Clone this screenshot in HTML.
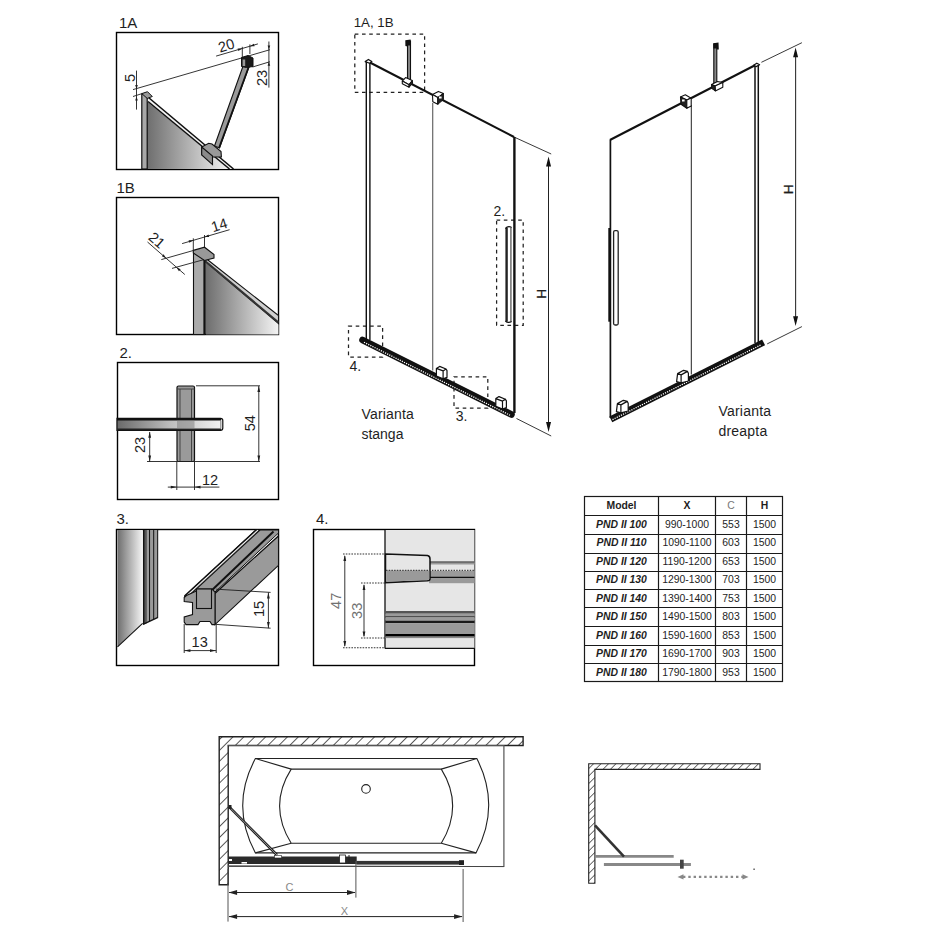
<!DOCTYPE html>
<html><head><meta charset="utf-8">
<style>
html,body{margin:0;padding:0;background:#fff;width:938px;height:938px;overflow:hidden}
svg{display:block;position:absolute;left:0;top:0}
text{font-family:"Liberation Sans",sans-serif;fill:#1e1e1e}
.lbl{font-size:15px}
.tb{font-size:10.4px}
.dim{font-size:14.6px}
</style></head><body>
<svg width="938" height="938" viewBox="0 0 938 938">
<defs>
  <linearGradient id="gL" x1="0" y1="0" x2="1" y2="0">
    <stop offset="0" stop-color="#6e6e6e"/><stop offset="1" stop-color="#f4f4f4"/>
  </linearGradient>
  <linearGradient id="gBar" x1="117" y1="0" x2="223" y2="0" gradientUnits="userSpaceOnUse">
    <stop offset="0" stop-color="#6a6a6a"/><stop offset="0.5" stop-color="#bdbdbd"/><stop offset="1" stop-color="#f4f4f4"/>
  </linearGradient>
  <pattern id="hatch" patternUnits="userSpaceOnUse" width="7.7" height="7.7" patternTransform="rotate(45)">
    <rect width="7.7" height="7.7" fill="#fff"/><line x1="0" y1="0" x2="0" y2="7.7" stroke="#222" stroke-width="1.5"/>
  </pattern>
  <pattern id="hatch2" patternUnits="userSpaceOnUse" width="5.3" height="5.3" patternTransform="rotate(45)">
    <rect width="5.3" height="5.3" fill="#fff"/><line x1="0" y1="0" x2="0" y2="5.3" stroke="#222" stroke-width="1.3"/>
  </pattern>
  <marker id="ar" viewBox="0 0 10 10" refX="10" refY="5" markerWidth="5" markerHeight="5" orient="auto-start-reverse">
    <path d="M0,1.5 L10,5 L0,8.5 z" fill="#1e1e1e"/>
  </marker>
  <marker id="arg" viewBox="0 0 10 10" refX="10" refY="5" markerWidth="5" markerHeight="5" orient="auto-start-reverse">
    <path d="M0,1.5 L10,5 L0,8.5 z" fill="#888"/>
  </marker>
</defs>

<!-- ===== detail boxes ===== -->
<g id="boxes" fill="none" stroke="#000" stroke-width="1.4">
  <rect x="116.5" y="32.5" width="162" height="137"/>
  <rect x="116.5" y="197.5" width="162" height="137"/>
  <rect x="117.5" y="362.5" width="161" height="137"/>
  <rect x="116.5" y="529.5" width="162" height="136"/>
  <rect x="313.5" y="529.5" width="161" height="136"/>
</g>
<g class="lbl">
  <text x="119" y="28">1A</text>
  <text x="116.5" y="193">1B</text>
  <text x="119.5" y="358">2.</text>
  <text x="116.5" y="524">3.</text>
  <text x="316" y="524">4.</text>
</g>

<!-- ===== 1A ===== -->
<g id="d1a">
  <!-- glass gradient -->
  <polygon points="147,101.5 229.5,169 147,169" fill="url(#gL)"/>
  <!-- glass edge -->
  <polygon points="148.5,97.5 233.5,169 229.5,169 148,101.5" fill="#f2f2f2"/>
  <line x1="148.5" y1="97.5" x2="233.5" y2="169" stroke="#111" stroke-width="1.6"/>
  <line x1="148" y1="101.5" x2="229.5" y2="169" stroke="#111" stroke-width="1.6"/>
  <!-- post -->
  <rect x="141.8" y="94" width="5.4" height="75" fill="#a8a8a8" stroke="#111" stroke-width="1.2"/>
  <polygon points="141.8,93.6 147.5,91.7 152.3,96.5 147.2,98.4" fill="#999" stroke="#111" stroke-width="1"/>
  <!-- dims -->
  <g stroke="#1e1e1e" stroke-width="0.9" fill="none">
    <line x1="136.5" y1="70.6" x2="136.5" y2="109.6"/>
    <line x1="133" y1="89.6" x2="270" y2="49.7"/>
    <line x1="133" y1="96.5" x2="142" y2="93.6"/>
    <line x1="252.6" y1="67" x2="270" y2="61.7"/>
    <line x1="268.9" y1="41.5" x2="268.9" y2="87.6"/>
    <line x1="216.1" y1="56.1" x2="257.9" y2="43.9"/>
    <line x1="242.3" y1="46.8" x2="242.3" y2="60"/>
    <line x1="249.9" y1="44.4" x2="249.9" y2="54"/>
  </g>
  <g fill="#1e1e1e">
    <path d="M136.5,89 l-1.3,-4 h2.6z M136.5,96.5 l-1.3,4 h2.6z"/>
    <path d="M268.9,49.5 l-1.3,-4 h2.6z M268.9,61.7 l-1.3,4 h2.6z"/>
    <path d="M242.30,48.45 L238.34,50.96 L237.62,48.46Z M249.90,46.23 L253.86,43.72 L254.58,46.22Z"/>
  </g>
  <text class="dim" transform="translate(129.5,78) rotate(-90)" text-anchor="middle" dominant-baseline="central">5</text>
  <text class="dim" transform="translate(226.4,45.5) rotate(-17)" text-anchor="middle" dominant-baseline="central">20</text>
  <text class="dim" transform="translate(261.7,78) rotate(-90)" text-anchor="middle" dominant-baseline="central">23</text>
  <!-- rod -->
  <polygon points="244.5,62 250,64 219.5,148 214.5,146" fill="#9a9a9a" stroke="#111" stroke-width="1.1"/>
  <line x1="249.6" y1="64.5" x2="219.2" y2="147.5" stroke="#111" stroke-width="1.8"/>
  <!-- wall bracket -->
  <polygon points="241.5,57.5 248,55.5 253,58 253,66.5 246.5,67.5 241.5,66.5" fill="#1a1a1a" stroke="#111" stroke-width="1"/>
  <rect x="242.6" y="59.5" width="2.6" height="6.5" fill="#999"/>
  <!-- clamp -->
  <polygon points="201.7,147 208.7,143.3 212,144 221,151.5 221.4,157 212.5,157 201.7,154.5" fill="#999" stroke="#111" stroke-width="1.1"/>
  <polygon points="201.7,147 212.5,156 212.5,164.6 201.7,155" fill="#8a8a8a" stroke="#111" stroke-width="1.1"/>
</g>

<!-- ===== 1B ===== -->
<g id="d1b">
  <polygon points="206,262 278.5,323.5 278.5,334.5 206,334.5" fill="url(#gL)"/>
  <polygon points="206,258.5 278.5,315.6 278.5,323.6 206,262" fill="#cfcfcf" stroke="#111" stroke-width="1.1"/>
  <line x1="206" y1="261.7" x2="278.5" y2="322.5" stroke="#333" stroke-width="2"/>
  <rect x="193.5" y="252" width="11" height="82.5" fill="#aaa" stroke="#111" stroke-width="1.1"/>
  <line x1="204.6" y1="258" x2="204.6" y2="334.5" stroke="#111" stroke-width="2.4"/>
  <polygon points="193.3,250.4 204.5,247.2 214,254.5 214,258 204.5,260.5 193.3,253" fill="#999" stroke="#111" stroke-width="1.1"/>
  <g stroke="#1e1e1e" stroke-width="0.9" fill="none">
    <line x1="182.1" y1="243.6" x2="229.6" y2="229.7"/>
    <line x1="193.3" y1="238.3" x2="193.3" y2="250.5"/>
    <line x1="204.5" y1="235" x2="204.5" y2="247"/>
    <line x1="147.5" y1="242" x2="184.8" y2="274.5"/>
    <line x1="161.3" y1="259.6" x2="193.3" y2="250.5"/>
    <line x1="172" y1="268.4" x2="204" y2="259.6"/>
  </g>
  <g fill="#1e1e1e">
    <path d="M193.30,240.32 L189.35,242.83 L188.62,240.34Z M204.50,237.05 L208.45,234.54 L209.18,237.03Z"/>
    <path d="M166.12,258.23 L161.87,256.25 L163.58,254.29Z M176.41,267.19 L180.66,269.17 L178.95,271.13Z"/>
  </g>
  <text class="dim" transform="translate(219.2,225) rotate(-17)" style="font-size:14.5px" text-anchor="middle" dominant-baseline="central">14</text>
  <text class="dim" transform="translate(156.8,240.3) rotate(41)" style="font-size:14.5px" text-anchor="middle" dominant-baseline="central">21</text>
</g>

<!-- ===== 2 ===== -->
<g id="d2">
  <rect x="177" y="386" width="17.5" height="75.5" rx="1.5" fill="#9a9a9a" stroke="#111" stroke-width="1.2"/>
  <line x1="180" y1="389" x2="180" y2="461" stroke="#444" stroke-width="1"/>
  <line x1="191.5" y1="389" x2="191.5" y2="461" stroke="#444" stroke-width="1"/>
  <line x1="177" y1="389" x2="194.5" y2="389" stroke="#444" stroke-width="1"/>
  <path d="M117,418.4 H220.5 Q222.8,418.4 222.8,420.6 V428 Q222.8,430.4 220.5,430.4 H117 Z" fill="url(#gBar)" stroke="#111" stroke-width="1.2"/>
  <line x1="117" y1="419.6" x2="221" y2="419.6" stroke="#111" stroke-width="2"/>
  <line x1="117" y1="429.4" x2="221" y2="429.4" stroke="#222" stroke-width="1.6"/>
  <rect x="177" y="420.5" width="17.5" height="8" fill="#7a7a7a" opacity="0.5"/>
  <line x1="220.8" y1="420.6" x2="220.8" y2="428.5" stroke="#666" stroke-width="0.8"/>
  <g stroke="#1e1e1e" stroke-width="0.9" fill="none">
    <line x1="196" y1="385.8" x2="260" y2="385.8"/>
    <line x1="147" y1="461.5" x2="260" y2="461.5"/>
    <line x1="258.8" y1="386" x2="258.8" y2="461.5"/>
    <line x1="149.7" y1="432" x2="149.7" y2="461.5"/>
    <line x1="176.8" y1="461.5" x2="176.8" y2="490"/>
    <line x1="194.5" y1="461.5" x2="194.5" y2="490"/>
    <line x1="167.8" y1="487.1" x2="219.4" y2="487.1"/>
  </g>
  <g fill="#1e1e1e">
    <path d="M258.80,386.00 L260.20,392.00 L257.40,392.00Z M258.80,461.50 L257.40,455.50 L260.20,455.50Z"/>
    <path d="M149.70,431.80 L151.10,437.80 L148.30,437.80Z M149.70,461.50 L148.30,455.50 L151.10,455.50Z"/>
    <path d="M176.80,487.10 L170.80,488.50 L170.80,485.70Z M194.50,487.10 L200.50,485.70 L200.50,488.50Z"/>
  </g>
  <text class="dim" transform="translate(250.3,423.2) rotate(-90)" text-anchor="middle" dominant-baseline="central">54</text>
  <text class="dim" transform="translate(139.9,445) rotate(-90)" text-anchor="middle" dominant-baseline="central">23</text>
  <text class="dim" x="210" y="485" text-anchor="middle">12</text>
</g>

<!-- ===== 3 ===== -->
<g id="d3">
  <polygon points="117.5,530 142.6,530 142.6,623.3 117.5,646.8" fill="url(#gL)"/>
  <line x1="142.6" y1="623.3" x2="117.5" y2="646.8" stroke="#111" stroke-width="1.1"/>
  <polygon points="143,530 158,530 158,617.3 143,624.3" fill="#9a9a9a"/>
  <polygon points="144.6,530 146.8,530 146.8,623.3 144.6,624" fill="#555"/>
  <g stroke="#111" fill="none">
    <line x1="143.8" y1="530" x2="143.8" y2="624.3" stroke-width="1.7"/>
    <line x1="149.55" y1="530" x2="149.55" y2="621.7" stroke-width="1"/>
    <line x1="153.7" y1="530" x2="153.7" y2="619.5" stroke-width="1"/>
    <line x1="157.7" y1="530" x2="157.7" y2="617.6" stroke-width="1"/>
    <line x1="143" y1="624.3" x2="158" y2="617.3" stroke-width="1.3"/>
  </g>
  <!-- track top surface -->
  <polygon points="184.2,596.5 255.7,530 278.5,530 278.5,533 215,592" fill="#9a9a9a" stroke="#111" stroke-width="1"/>
  <line x1="184.5" y1="596" x2="256" y2="530" stroke="#111" stroke-width="1.4"/>
  <line x1="186.2" y1="596.3" x2="258" y2="530" stroke="#fff" stroke-width="0.9"/>
  <line x1="187.8" y1="596.8" x2="260" y2="530" stroke="#111" stroke-width="1.1"/>
  <line x1="211.6" y1="590.5" x2="273.5" y2="531.5" stroke="#111" stroke-width="2"/>
  <line x1="215" y1="593.5" x2="278.5" y2="536" stroke="#111" stroke-width="1.2"/>
  <!-- side face -->
  <polygon points="215,593.5 278.5,536 278.5,565.3 215,624.6" fill="#9a9a9a" stroke="#111" stroke-width="1.1"/>
  <!-- front cross section -->
  <path d="M184.2,597.5 L186.5,595.5 L196.5,591 L196.5,589 L212,589 L215,592.2 L215,624.6 L212,624.6 L210,621.5 L200,621.5 L198,624.6 L186,624.6 L184.2,622 L184.2,617 L192.5,614.6 L192.5,602.5 L184.2,601.5 Z" fill="#9a9a9a" stroke="#111" stroke-width="1.1"/>
  <rect x="196.5" y="589" width="15" height="19.5" fill="#9a9a9a" stroke="#111" stroke-width="1.1"/>
  <g stroke="#1e1e1e" stroke-width="0.9" fill="none">
    <line x1="216.2" y1="589.2" x2="270.6" y2="592.4"/>
    <line x1="216.2" y1="624.4" x2="270.6" y2="628.2"/>
    <line x1="268.4" y1="592.4" x2="268.4" y2="628.2"/>
    <line x1="184.2" y1="624" x2="184.2" y2="653"/>
    <line x1="216.2" y1="624" x2="216.2" y2="653"/>
    <line x1="184.2" y1="650.6" x2="216.2" y2="650.6"/>
  </g>
  <g fill="#1e1e1e">
    <path d="M268.40,592.60 L269.80,598.60 L267.00,598.60Z M268.40,628.00 L267.00,622.00 L269.80,622.00Z"/>
    <path d="M184.40,650.60 L190.40,649.20 L190.40,652.00Z M216.00,650.60 L210.00,652.00 L210.00,649.20Z"/>
  </g>
  <text class="dim" transform="translate(259.3,609) rotate(-90)" text-anchor="middle" dominant-baseline="central">15</text>
  <text class="dim" x="199.7" y="646.8" text-anchor="middle">13</text>
</g>

<!-- ===== 4 ===== -->
<g id="d4">
  <rect x="385" y="530" width="89.5" height="118.2" fill="#e6e6e6"/>
  <line x1="385" y1="530" x2="385" y2="648.5" stroke="#111" stroke-width="1.3"/>
  <line x1="385" y1="648.3" x2="474.5" y2="648.3" stroke="#111" stroke-width="1.2"/>
  <!-- right stripes near handle -->
  <rect x="429" y="561.5" width="45.5" height="3" fill="#999"/>
  <line x1="429" y1="562" x2="474.5" y2="562" stroke="#444" stroke-width="1"/>
  <rect x="429" y="571" width="45.5" height="12.2" fill="#9a9a9a"/>
  <line x1="429" y1="577.3" x2="474.5" y2="577.3" stroke="#111" stroke-width="1.2"/>
  <!-- handle -->
  <path d="M385.5,554 L427.5,555.5 Q430,556 430,559 L430,579 Q430,580.5 427.5,580.8 L385.5,582.6 Z" fill="#e6e6e6" stroke="#111" stroke-width="1.5"/>
  <path d="M386.3,570.4 L429.2,570.4 L429.2,579 Q429,580 427.3,580.1 L386.3,581.8 Z" fill="#9a9a9a"/>
  <line x1="386" y1="570.4" x2="474.5" y2="570.4" stroke="#444" stroke-width="1.1" stroke-dasharray="1.5,1.2"/>
  <!-- bottom stripes -->
  <rect x="385.5" y="611" width="89" height="2.7" fill="#555"/>
  <rect x="385.5" y="613.7" width="89" height="3" fill="#9a9a9a"/>
  <rect x="385.5" y="616.4" width="89" height="1" fill="#111"/>
  <rect x="385.5" y="617.4" width="89" height="3" fill="#9a9a9a"/>
  <rect x="385.5" y="620.6" width="89" height="2.6" fill="#1a1a1a"/>
  <rect x="385.5" y="623.2" width="89" height="10.8" fill="#9a9a9a"/>
  <rect x="385.5" y="634" width="89" height="2.6" fill="#000"/>
  <rect x="385.5" y="636.6" width="89" height="1.5" fill="#888"/>
  <!-- dims -->
  <g stroke="#333" stroke-width="1.1" stroke-dasharray="1.6,1.2" fill="none">
    <line x1="343" y1="554" x2="385" y2="554"/>
    <line x1="361" y1="583" x2="385" y2="583"/>
    <line x1="361" y1="638" x2="385" y2="638"/>
    <line x1="343" y1="647.8" x2="385" y2="647.8"/>
  </g>
  <g stroke="#1e1e1e" stroke-width="0.9">
    <line x1="344.8" y1="556" x2="344.8" y2="646"/>
    <line x1="364" y1="585" x2="364" y2="636"/>
  </g>
  <g fill="#1e1e1e">
    <path d="M344.80,555.00 L346.20,561.00 L343.40,561.00Z M344.80,647.00 L343.40,641.00 L346.20,641.00Z"/>
    <path d="M364.00,584.00 L365.40,590.00 L362.60,590.00Z M364.00,637.50 L362.60,631.50 L365.40,631.50Z"/>
  </g>
  <text class="dim" style="fill:#707070" transform="translate(336.3,600.8) rotate(-90)" text-anchor="middle" dominant-baseline="central">47</text>
  <text class="dim" style="fill:#707070" transform="translate(357.2,610.8) rotate(-90)" text-anchor="middle" dominant-baseline="central">33</text>
</g>

<!-- ===== main left (stanga) ===== -->
<g id="mainL">
  <g fill="none" stroke="#222" stroke-width="1.25" stroke-dasharray="3.6,3.6">
    <rect x="354.8" y="34" width="69.8" height="58.4"/>
    <rect x="496.6" y="220" width="26.6" height="105.3"/>
    <rect x="348.5" y="326.2" width="34.1" height="30.8"/>
    <rect x="454" y="376.9" width="33.8" height="31.1"/>
  </g>
  <g style="font-size:14px">
    <text x="353.7" y="26.7" style="font-size:13.3px">1A, 1B</text>
    <text x="493.5" y="216">2.</text>
    <text x="349.5" y="371">4.</text>
    <text x="455.8" y="420.9">3.</text>
    <text x="361.4" y="418.6" style="letter-spacing:0.2px">Varianta</text>
    <text x="361.4" y="438.5">stanga</text>
  </g>
  <!-- post -->
  <line x1="366.3" y1="61.4" x2="366.3" y2="340" stroke="#111" stroke-width="1.4"/>
  <line x1="369.9" y1="62" x2="369.9" y2="340" stroke="#111" stroke-width="1.4"/>
  <!-- top rail -->
  <line x1="368" y1="61.5" x2="514" y2="137" stroke="#111" stroke-width="2.1"/>
  <polygon points="365.2,61.6 368.4,59.4 371.8,61.6 369.6,63.2" fill="#fff" stroke="#111" stroke-width="1.2" stroke-linejoin="round"/>
  <line x1="514" y1="137" x2="551.2" y2="154" stroke="#222" stroke-width="0.9"/>
  <!-- middle line -->
  <line x1="432.7" y1="103" x2="432.7" y2="370.5" stroke="#666" stroke-width="1.2"/>
  <!-- right post -->
  <line x1="514.4" y1="137" x2="514.4" y2="413" stroke="#111" stroke-width="2.4"/>
  <!-- rod & bracket -->
  <rect x="407.5" y="41" width="3" height="39" fill="#888" stroke="#111" stroke-width="1.1"/>
  <path d="M405.3,40.2 L410.6,39.4 L410.8,45.5 L407.5,45.5 L407.5,46.5 L405.4,46 Z" fill="#111"/>
  <polygon points="402.3,81.1 405.6,77.6 412.3,80.6 409.1,84.7" fill="#fff" stroke="#111" stroke-width="1.1" stroke-linejoin="round"/>
  <polygon points="402.3,81.1 409.1,84.7 409.1,87.3 402.3,83.8" fill="#fff" stroke="#111" stroke-width="1.1" stroke-linejoin="round"/>
  <polygon points="409.1,84.7 412.3,80.6 412.6,83.2 409.1,87.3" fill="#222" stroke="#111" stroke-width="1"/>
  <!-- clamp -->
  <polygon points="432.5,94.6 438.4,91.4 443.4,93.5 437.8,97.6" fill="#fff" stroke="#111" stroke-width="1.1" stroke-linejoin="round"/>
  <polygon points="432.5,94.6 437.8,97.6 437.8,104.3 432.8,101.7" fill="#fff" stroke="#111" stroke-width="1.1" stroke-linejoin="round"/>
  <polygon points="437.8,97.6 443.4,93.5 443.4,99.5 437.8,104.3" fill="#222" stroke="#111" stroke-width="1"/>
  <rect x="439" y="96.5" width="2.6" height="2" fill="#fff"/>
  <!-- handle -->
  <line x1="506.6" y1="228" x2="506.6" y2="321.5" stroke="#222" stroke-width="2.4"/>
  <line x1="510.9" y1="228" x2="510.9" y2="321.5" stroke="#777" stroke-width="1.6"/>
  <path d="M505.4,228.5 Q508,225.5 511.7,227.5 M505.4,321 Q508,323.5 511.7,321.5" fill="none" stroke="#111" stroke-width="1.3"/>
  <!-- bottom rail -->
  <line x1="362.5" y1="340" x2="511.5" y2="414.45" stroke="#111" stroke-width="6.6" stroke-linecap="round"/>
  <line x1="364" y1="342.25" x2="510" y2="415.25" stroke="#fff" stroke-width="1.3" stroke-dasharray="1.2,1.15"/>
  <!-- rollers -->
  <g transform="translate(436.4,366.4)" fill="#fff" stroke="#111" stroke-width="1.2" stroke-linejoin="round"><path d="M0,2 L3.2,0 L9.6,2.6 L6.7,4.5 Z M0,2 L6.7,4.5 L6.7,12.5 L0,9.6 Z M6.7,4.5 L9.6,2.6 L10.6,4.2 L10.6,11 L6.7,12.5 Z"/></g>
  <g transform="translate(495.8,396.6)" fill="#fff" stroke="#111" stroke-width="1.2" stroke-linejoin="round"><path d="M0,2 L3.2,0 L9.6,2.6 L6.7,4.5 Z M0,2 L6.7,4.5 L6.7,12.5 L0,9.6 Z M6.7,4.5 L9.6,2.6 L10.6,4.2 L10.6,11 L6.7,12.5 Z"/></g>
  <!-- H dimension -->
  <line x1="516.5" y1="418.5" x2="551.2" y2="436" stroke="#222" stroke-width="0.9"/>
  <line x1="548.5" y1="160" x2="548.5" y2="430" stroke="#222" stroke-width="1"/>
  <path d="M548.55,156.6 l-2.5,9.8 h5z M548.55,431.9 l-2.5,-9.8 h5z" fill="#111"/>
  <text class="dim" transform="translate(541.2,293.8) rotate(-90)" text-anchor="middle" dominant-baseline="central" style="font-size:13.6px;stroke:#1e1e1e;stroke-width:0.3">H</text>
</g>

<!-- ===== main right (dreapta) ===== -->
<g id="mainR">
  <g style="font-size:14px;letter-spacing:0.2px">
    <text x="718.5" y="415.6">Varianta</text>
    <text x="718.5" y="435.9">dreapta</text>
  </g>
  <!-- left edge -->
  <line x1="610.4" y1="140" x2="610.4" y2="418" stroke="#111" stroke-width="1.7"/>
  <line x1="609.6" y1="228" x2="609.6" y2="321.7" stroke="#111" stroke-width="2.6"/>
  <!-- top rail -->
  <line x1="609.9" y1="140" x2="755.5" y2="65" stroke="#111" stroke-width="2.1"/>
  <line x1="761.4" y1="62.3" x2="801.9" y2="42.7" stroke="#222" stroke-width="0.9"/>
  <!-- right post -->
  <line x1="755" y1="65" x2="755" y2="343" stroke="#111" stroke-width="1.5"/>
  <polygon points="753.6,65.2 756.8,63.2 759.6,64.8 756.5,66.6" fill="#fff" stroke="#111" stroke-width="1.2" stroke-linejoin="round"/>
  <line x1="758.3" y1="65" x2="758.3" y2="343" stroke="#111" stroke-width="1.5"/>
  <!-- middle -->
  <line x1="691.3" y1="105" x2="691.3" y2="374.5" stroke="#222" stroke-width="1"/>
  <!-- rod -->
  <rect x="713.8" y="44" width="3" height="39" fill="#888" stroke="#111" stroke-width="1.1"/>
  <path d="M713.3,43.3 L718.5,42.6 L718.8,49.6 L716.8,49.6 L716.8,48.6 L713.4,48.6 Z" fill="#111"/>
  <polygon points="711.5,84.5 717.5,81.5 722.8,82.6 715,86" fill="#fff" stroke="#111" stroke-width="1.1" stroke-linejoin="round"/>
  <polygon points="715,86 722.8,82.6 722.8,87.3 715.3,90.9" fill="#fff" stroke="#111" stroke-width="1.1" stroke-linejoin="round"/>
  <polygon points="711.5,84.5 715,86 715.3,90.9 711.8,88.5" fill="#222" stroke="#111" stroke-width="1"/>
  <!-- clamp -->
  <polygon points="680.5,97 685.3,94.8 690.8,98 686.8,100" fill="#fff" stroke="#111" stroke-width="1.1" stroke-linejoin="round"/>
  <polygon points="680.5,97 686.8,100 686.8,108.2 681,104.3" fill="#222" stroke="#111" stroke-width="1.1" stroke-linejoin="round"/>
  <rect x="682" y="99.5" width="2.6" height="2" fill="#fff"/>
  <polygon points="686.8,100 691.2,98 691.2,106 686.8,108.2" fill="#fff" stroke="#111" stroke-width="1.1" stroke-linejoin="round"/>
  <!-- handle -->
  <rect x="613.6" y="230.6" width="4.6" height="94.4" rx="1.5" fill="#fff" stroke="#222" stroke-width="1.3"/>
  <!-- bottom rail -->
  <line x1="610.8" y1="419.3" x2="763.6" y2="342.4" stroke="#111" stroke-width="6.4" stroke-linecap="butt"/>
  <line x1="612.5" y1="419.6" x2="761.5" y2="344.6" stroke="#fff" stroke-width="1.3" stroke-dasharray="1.2,1.15"/>
  <!-- rollers -->
  <g transform="translate(616.4,400.3)" fill="#fff" stroke="#111" stroke-width="1.2" stroke-linejoin="round"><path d="M1,3.3 L7,0 L10.9,1.1 L4.5,4.6 Z M4.5,4.6 L10.9,1.1 L11.8,3 L11.8,10.7 L4.5,12.6 Z M1,3.3 L4.5,4.6 L4.5,12.6 L0,11.3 Z"/></g>
  <g transform="translate(676.6,370.3)" fill="#fff" stroke="#111" stroke-width="1.2" stroke-linejoin="round"><path d="M1,3.3 L7,0 L10.9,1.1 L4.5,4.6 Z M4.5,4.6 L10.9,1.1 L11.8,3 L11.8,10.7 L4.5,12.6 Z M1,3.3 L4.5,4.6 L4.5,12.6 L0,11.3 Z"/></g>
  <!-- H dim -->
  <line x1="767.2" y1="343.9" x2="801.9" y2="326.6" stroke="#222" stroke-width="0.9"/>
  <line x1="795.6" y1="52" x2="795.6" y2="322" stroke="#333" stroke-width="1.1"/>
  <path d="M795.6,47.4 l-2.5,9.8 h5z M795.6,326 l-2.5,-9.8 h5z" fill="#111"/>
  <text class="dim" transform="translate(788,189.4) rotate(-90)" text-anchor="middle" dominant-baseline="central" style="font-size:13.6px;stroke:#1e1e1e;stroke-width:0.3">H</text>
</g>

<!-- ===== bottom plan ===== -->
<g id="plan">
  <path d="M219.2,736.8 H523.1 V745.5 H228.2 V884.8 H219.2 Z" fill="url(#hatch)" stroke="#222" stroke-width="1.4"/>
  <path d="M228.2,745.5 H503.9 V866.5 H228.2" fill="none" stroke="#555" stroke-width="1.2"/>
  <!-- tub -->
  <g fill="none" stroke="#222" stroke-width="1.1">
    <path d="M255.4,758.5 H476.8 Q501,805.7 476,852.9 H255.4 Q230,805.7 255.4,758.5 Z"/>
    <path d="M291.2,769.1 H441.3 Q464,805.7 441.3,843.3 H291.2 Q268,805.7 291.2,769.1 Z"/>
    <line x1="255.4" y1="758.5" x2="291.2" y2="769.1"/>
    <line x1="476.8" y1="758.5" x2="441.3" y2="769.1"/>
    <line x1="255.4" y1="852.9" x2="291.2" y2="843.3"/>
    <line x1="476" y1="852.9" x2="441.3" y2="843.3"/>
    <circle cx="366" cy="788.9" r="4.3"/>
  </g>
  <!-- arm -->
  <line x1="229.2" y1="806.9" x2="277" y2="855" stroke="#222" stroke-width="2.6"/>
  <line x1="229.2" y1="806.9" x2="277" y2="855" stroke="#aaa" stroke-width="0.8"/>
  <rect x="228.5" y="805" width="3" height="4" fill="#222"/>
  <!-- glass panels -->
  <rect x="228.3" y="856.5" width="128.4" height="7.5" fill="#2a2a2a"/>
  <rect x="356.4" y="860.9" width="107.5" height="3.7" fill="#333"/>
  <rect x="459" y="860.2" width="5" height="4.8" fill="#222"/>
  <rect x="229" y="859" width="3" height="2" fill="#fff"/>
  <rect x="241.5" y="862" width="5.5" height="1.6" fill="#fff"/>
  <rect x="274.5" y="855.5" width="7" height="2.5" fill="#fff" stroke="#222" stroke-width="0.6"/>
  <rect x="339.5" y="855" width="6" height="8" fill="#fff" stroke="#222" stroke-width="0.8"/>
  <line x1="349" y1="855" x2="349" y2="863" stroke="#222" stroke-width="1"/>
  <line x1="228.2" y1="865.8" x2="503.9" y2="866.6" stroke="#444" stroke-width="0.9"/>
  <!-- dims -->
  <g stroke="#555" stroke-width="1">
    <line x1="228" y1="869" x2="228" y2="921.6"/>
    <line x1="355.9" y1="861" x2="355.9" y2="897.6"/>
    <line x1="463.1" y1="869" x2="463.1" y2="922"/>
  </g>
  <g stroke="#222" stroke-width="1">
    <line x1="229" y1="892.5" x2="355" y2="892.5"/>
    <line x1="229" y1="916.6" x2="462" y2="916.6"/>
  </g>
  <path d="M228.6,892.5 l8.5,-2.4 v4.8z M355.5,892.5 l-8.5,-2.4 v4.8z M228.6,916.6 l8.5,-2.4 v4.8z M462.6,916.6 l-8.5,-2.4 v4.8z" fill="#222"/>
  <text x="289.6" y="891.2" text-anchor="middle" style="font-size:11px;fill:#888">C</text>
  <text x="344.3" y="915.2" text-anchor="middle" style="font-size:11px;fill:#888">X</text>
</g>

<!-- ===== small plan ===== -->
<g id="plan2">
  <path d="M588.7,763.7 H760 V769.4 H594.9 V883.3 H588.7 Z" fill="url(#hatch2)" stroke="#222" stroke-width="1.1"/>
  <line x1="595" y1="856.4" x2="673.7" y2="856.4" stroke="#888" stroke-width="2.8"/>
  <line x1="603.9" y1="864.5" x2="690.9" y2="864.5" stroke="#888" stroke-width="2.8"/>
  <rect x="680" y="859.7" width="3.7" height="9" fill="#444"/>
  <line x1="595" y1="825.4" x2="624" y2="856.7" stroke="#333" stroke-width="2.6"/>
  <line x1="683" y1="876.9" x2="744" y2="876.9" stroke="#888" stroke-width="2.2" stroke-dasharray="2.4,2.9"/>
  <path d="M677.5,876.9 l6,-2.6 v5.2z M748.5,876.9 l-6,-2.6 v5.2z" fill="#888"/>
  <rect x="753.3" y="868.6" width="1.6" height="1.2" fill="#444"/>
</g>
<g id="table">
<rect x="584.5" y="496.5" width="198.0" height="185.0" fill="none" stroke="#1a1a1a" stroke-width="1.2"/>
<line x1="658.5" y1="496.5" x2="658.5" y2="681.5" stroke="#1a1a1a" stroke-width="1.2"/>
<line x1="715.5" y1="496.5" x2="715.5" y2="681.5" stroke="#1a1a1a" stroke-width="1.2"/>
<line x1="746.5" y1="496.5" x2="746.5" y2="681.5" stroke="#1a1a1a" stroke-width="1.2"/>
<line x1="584.5" y1="515.5" x2="782.5" y2="515.5" stroke="#1a1a1a" stroke-width="1.2"/>
<line x1="584.5" y1="534.5" x2="782.5" y2="534.5" stroke="#1a1a1a" stroke-width="1.2"/>
<line x1="584.5" y1="553.5" x2="782.5" y2="553.5" stroke="#1a1a1a" stroke-width="1.2"/>
<line x1="584.5" y1="571.5" x2="782.5" y2="571.5" stroke="#1a1a1a" stroke-width="1.2"/>
<line x1="584.5" y1="589.5" x2="782.5" y2="589.5" stroke="#1a1a1a" stroke-width="1.2"/>
<line x1="584.5" y1="607.5" x2="782.5" y2="607.5" stroke="#1a1a1a" stroke-width="1.2"/>
<line x1="584.5" y1="626.5" x2="782.5" y2="626.5" stroke="#1a1a1a" stroke-width="1.2"/>
<line x1="584.5" y1="645.5" x2="782.5" y2="645.5" stroke="#1a1a1a" stroke-width="1.2"/>
<line x1="584.5" y1="663.5" x2="782.5" y2="663.5" stroke="#1a1a1a" stroke-width="1.2"/>
<text x="621.5" y="509" class="tb" font-weight="bold" text-anchor="middle">Model</text>
<text x="687.0" y="509" class="tb" font-weight="bold" text-anchor="middle">X</text>
<text x="731.0" y="509" class="tb" text-anchor="middle" style="fill:#777">C</text>
<text x="764.5" y="509" class="tb" font-weight="bold" text-anchor="middle">H</text>
<text x="621.5" y="527.6" class="tb" font-weight="bold" font-style="italic" text-anchor="middle">PND II 100</text>
<text x="687.0" y="527.6" class="tb" text-anchor="middle">990-1000</text>
<text x="731.0" y="527.6" class="tb" text-anchor="middle">553</text>
<text x="764.5" y="527.6" class="tb" text-anchor="middle">1500</text>
<text x="621.5" y="546.1" class="tb" font-weight="bold" font-style="italic" text-anchor="middle">PND II 110</text>
<text x="687.0" y="546.1" class="tb" text-anchor="middle">1090-1100</text>
<text x="731.0" y="546.1" class="tb" text-anchor="middle">603</text>
<text x="764.5" y="546.1" class="tb" text-anchor="middle">1500</text>
<text x="621.5" y="564.6" class="tb" font-weight="bold" font-style="italic" text-anchor="middle">PND II 120</text>
<text x="687.0" y="564.6" class="tb" text-anchor="middle">1190-1200</text>
<text x="731.0" y="564.6" class="tb" text-anchor="middle">653</text>
<text x="764.5" y="564.6" class="tb" text-anchor="middle">1500</text>
<text x="621.5" y="583.1" class="tb" font-weight="bold" font-style="italic" text-anchor="middle">PND II 130</text>
<text x="687.0" y="583.1" class="tb" text-anchor="middle">1290-1300</text>
<text x="731.0" y="583.1" class="tb" text-anchor="middle">703</text>
<text x="764.5" y="583.1" class="tb" text-anchor="middle">1500</text>
<text x="621.5" y="601.6" class="tb" font-weight="bold" font-style="italic" text-anchor="middle">PND II 140</text>
<text x="687.0" y="601.6" class="tb" text-anchor="middle">1390-1400</text>
<text x="731.0" y="601.6" class="tb" text-anchor="middle">753</text>
<text x="764.5" y="601.6" class="tb" text-anchor="middle">1500</text>
<text x="621.5" y="620.1" class="tb" font-weight="bold" font-style="italic" text-anchor="middle">PND II 150</text>
<text x="687.0" y="620.1" class="tb" text-anchor="middle">1490-1500</text>
<text x="731.0" y="620.1" class="tb" text-anchor="middle">803</text>
<text x="764.5" y="620.1" class="tb" text-anchor="middle">1500</text>
<text x="621.5" y="638.6" class="tb" font-weight="bold" font-style="italic" text-anchor="middle">PND II 160</text>
<text x="687.0" y="638.6" class="tb" text-anchor="middle">1590-1600</text>
<text x="731.0" y="638.6" class="tb" text-anchor="middle">853</text>
<text x="764.5" y="638.6" class="tb" text-anchor="middle">1500</text>
<text x="621.5" y="657.1" class="tb" font-weight="bold" font-style="italic" text-anchor="middle">PND II 170</text>
<text x="687.0" y="657.1" class="tb" text-anchor="middle">1690-1700</text>
<text x="731.0" y="657.1" class="tb" text-anchor="middle">903</text>
<text x="764.5" y="657.1" class="tb" text-anchor="middle">1500</text>
<text x="621.5" y="675.6" class="tb" font-weight="bold" font-style="italic" text-anchor="middle">PND II 180</text>
<text x="687.0" y="675.6" class="tb" text-anchor="middle">1790-1800</text>
<text x="731.0" y="675.6" class="tb" text-anchor="middle">953</text>
<text x="764.5" y="675.6" class="tb" text-anchor="middle">1500</text>
</g>
</svg>
</body></html>
